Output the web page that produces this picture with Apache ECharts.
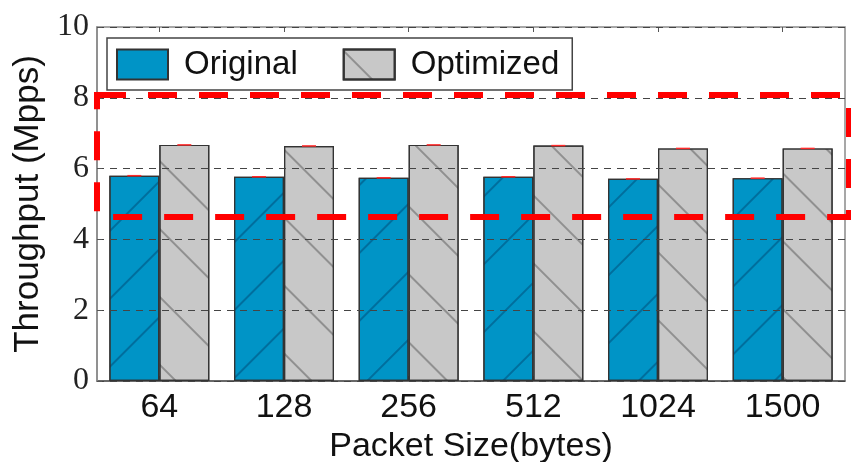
<!DOCTYPE html>
<html>
<head>
<meta charset="utf-8">
<script src="https://cdn.jsdelivr.net/npm/echarts@6/dist/echarts.min.js"></script>
<style>
  html, body { margin: 0; padding: 0; background: #ffffff; }
  #chart { width: 851px; height: 462px; }
</style>
</head>
<body>
<div id="chart"></div>
<script>
// Throughput per packet size, before and after optimization (Mpps)
const packetSizes   = ['64', '128', '256', '512', '1024', '1500'];
const originalMpps  = [5.80, 5.77, 5.74, 5.77, 5.71, 5.73];
const optimizedMpps = [6.67, 6.64, 6.67, 6.65, 6.57, 6.57];
const seriesNames   = ['Original', 'Optimized'];

// Y axis range and tick step
const yMin = 0, yMax = 10, yStep = 2;

// Highlighted throughput band (dashed red box): [low, high] in Mpps
const bandRange = [4.63, 8.08];

const BAR_W = 50;

// Red error caps on top of each bar: [categoryIndex, value, seriesIndex]
const capData = [];
originalMpps.forEach((v, i) => capData.push([i, v, 0]));
optimizedMpps.forEach((v, i) => capData.push([i, v, 1]));

function renderCap(params, api) {
  const p = api.coord([api.value(0), api.value(1)]);
  const off = api.value(2) === 0 ? -BAR_W / 2 : BAR_W / 2;
  return {
    type: 'line',
    shape: { x1: p[0] + off - 7, y1: p[1], x2: p[0] + off + 7, y2: p[1] },
    style: { stroke: '#ff2a2a', lineWidth: 1.5 }
  };
}

// Dashed box spanning the whole plot width between the two band values
function renderBand(params, api) {
  const cs = params.coordSys;
  const yHigh = api.coord([0, api.value(1)])[1];
  const yLow = api.coord([0, api.value(0)])[1];
  return {
    type: 'rect',
    shape: { x: cs.x, y: yHigh, width: cs.width + 4, height: yLow - yHigh },
    style: { fill: null, stroke: '#ff0000', lineWidth: 6, lineDash: [29, 22] }
  };
}

const sansFont = '"Liberation Sans", Arial, Helvetica, sans-serif';
const serifFont = '"Liberation Serif", "DejaVu Serif", serif';

const chart = echarts.init(document.getElementById('chart'), null, { renderer: 'canvas' });

chart.setOption({
  animation: false,
  backgroundColor: '#ffffff',
  grid: {
    left: 97, right: 6, top: 27, bottom: 81,
    containLabel: false,
    outerBoundsMode: 'none',
    show: true, borderColor: '#8a8a8a', borderWidth: 1.5, backgroundColor: 'transparent'
  },
  legend: {
    left: 107, top: 38,
    orient: 'horizontal',
    icon: 'rect',
    itemWidth: 51, itemHeight: 30, itemGap: 45,
    padding: [10, 13, 9, 9],
    backgroundColor: '#ffffff',
    borderColor: '#444444', borderWidth: 1.5,
    textStyle: { fontFamily: sansFont, fontSize: 33, color: '#111', padding: [0, 0, 0, 11] },
    data: [
      { name: seriesNames[0], itemStyle: { decal: 'none' } },
      { name: seriesNames[1] }
    ]
  },
  xAxis: [{
    type: 'category',
    data: packetSizes,
    position: 'bottom',
    axisLine: { lineStyle: { color: '#555', width: 1.5 } },
    axisTick: { show: true, inside: true, alignWithLabel: true, length: 5, lineStyle: { color: '#555' } },
    axisLabel: { fontFamily: sansFont, fontSize: 34, color: '#111', margin: 10 },
    name: 'Packet Size(bytes)',
    nameLocation: 'middle',
    nameGap: 43,
    nameTextStyle: { fontFamily: sansFont, fontSize: 34, color: '#111' }
  }, {
    type: 'category',
    data: packetSizes,
    position: 'top',
    axisLine: { show: false },
    axisTick: { show: true, inside: true, alignWithLabel: true, length: 5, lineStyle: { color: '#555' } },
    axisLabel: { show: false }
  }],
  yAxis: {
    type: 'value',
    min: yMin, max: yMax, interval: yStep,
    z: 3,
    axisLine: { show: true, lineStyle: { color: '#8a8a8a', width: 1.5 } },
    axisTick: { show: true, inside: true, length: 5, lineStyle: { color: '#555' } },
    axisLabel: { fontFamily: serifFont, fontSize: 32, color: '#222', margin: 8 },
    splitLine: { show: true, lineStyle: { color: '#444', width: 1, type: [7, 6] } },
    name: 'Throughput (Mpps)',
    nameLocation: 'middle',
    nameGap: 48,
    nameRotate: 90,
    nameTextStyle: { fontFamily: sansFont, fontSize: 35, color: '#111' }
  },
  series: [{
    name: seriesNames[0],
    type: 'bar',
    data: originalMpps,
    barWidth: BAR_W,
    barGap: '0%',
    itemStyle: {
      color: '#0094c6', borderColor: '#333', borderWidth: 1.2,
      decal: { symbol: 'rect', symbolSize: 1, dashArrayX: [1, 0], dashArrayY: [1.2, 46],
               rotation: -Math.PI / 4, color: 'rgba(0,40,80,0.35)' }
    }
  }, {
    name: seriesNames[1],
    type: 'bar',
    data: optimizedMpps,
    barWidth: BAR_W,
    barGap: '0%',
    itemStyle: {
      color: '#c8c8c8', borderColor: '#333', borderWidth: 1.2,
      decal: { symbol: 'rect', symbolSize: 1, dashArrayX: [1, 0], dashArrayY: [1.2, 46],
               rotation: Math.PI / 4, color: 'rgba(0,0,0,0.28)' }
    }
  }, {
    type: 'custom',
    renderItem: renderCap,
    data: capData,
    z: 10,
    silent: true
  }, {
    type: 'custom',
    renderItem: renderBand,
    data: [bandRange],
    clip: false,
    z: 11,
    silent: true
  }]
});
</script>
</body>
</html>
